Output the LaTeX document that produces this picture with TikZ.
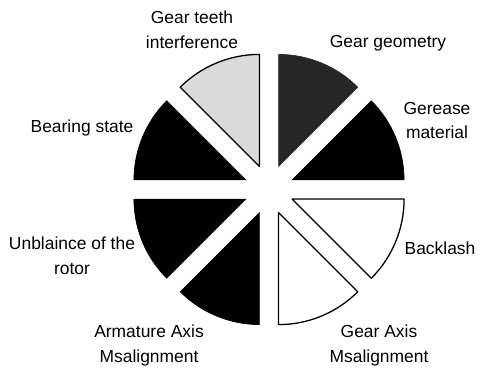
\documentclass[tikz,border=0pt]{standalone}
\usepackage{fontspec}
\setmainfont{Liberation Sans}
\usetikzlibrary{calc}
\definecolor{darkspeck}{HTML}{262626}
\definecolor{lightspeck}{HTML}{DADADA}
\tikzset{
  lbl/.style={align=center, inner sep=0pt, font=\fontsize{17.5}{25}\selectfont},
  solidsec/.style={fill=black, draw=black, line width=0.6bp},
  outsec/.style={draw=black, line width=1.3bp, line join=round},
}
\newcommand{\pieSector}[3]{% k, style, name
  \pgfmathsetmacro{\aA}{45*#1}
  \pgfmathsetmacro{\aB}{45*#1+45}
  \pgfmathsetmacro{\aM}{45*#1+22.5}
  \path[#2] ($(ctr)+(\aM:25bp)$) coordinate (#3)
    -- ++(\aA:112bp) arc[start angle=\aA, end angle=\aB, radius=112bp] -- cycle;
}
\begin{document}
\begin{tikzpicture}[x=1bp,y=1bp]
\useasboundingbox (0,0) rectangle (480,372);
\fill[white] (0,0) rectangle (480,372);
\coordinate (ctr) at (269,182.5);
\pieSector{0}{solidsec}{s0}
\pieSector{1}{fill=darkspeck, draw=darkspeck, line width=0.6bp}{s1}
\pieSector{2}{outsec, fill=lightspeck}{s2}
\pieSector{3}{solidsec}{s3}
\pieSector{4}{solidsec}{s4}
\pieSector{5}{solidsec}{s5}
\pieSector{6}{outsec, fill=white}{s6}
\pieSector{7}{outsec, fill=white}{s7}
\node[lbl] (t2) at (192,342.5) {Gear teeth\\interference};
\node[lbl] (t1) at (388,329) {Gear geometry};
\node[lbl] (t0) at (437,251.5) {Gerease\\material};
\node[lbl] (t7) at (440,124) {Backlash};
\node[lbl] (t6) at (379,26.5) {Gear Axis\\Msalignment};
\node[lbl] (t5) at (149,26.5) {Armature Axis\\Msalignment};
\node[lbl] (t4) at (72,116) {Unblaince of the\\rotor};
\node[lbl] (t3) at (82,244) {Bearing state};
\end{tikzpicture}
\end{document}
